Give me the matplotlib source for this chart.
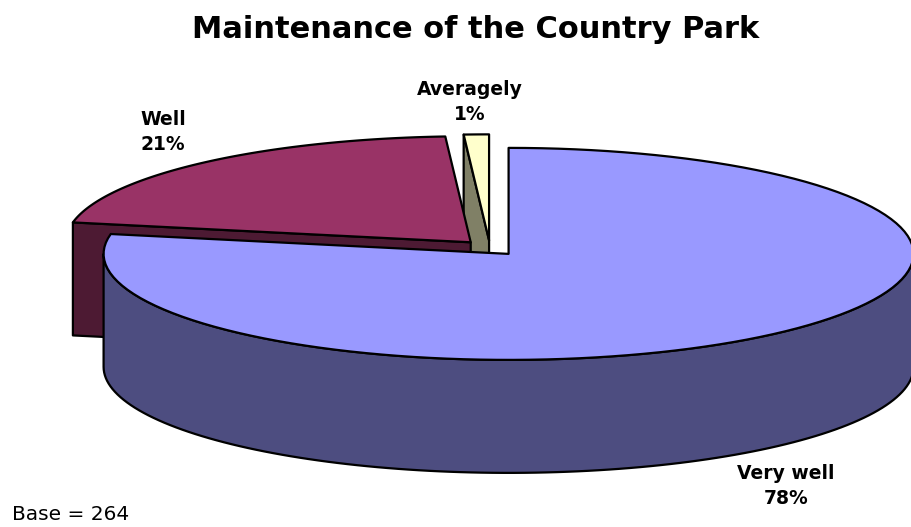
import numpy as np
import matplotlib
matplotlib.use("Agg")
import matplotlib.pyplot as plt
from matplotlib.patches import Polygon

# survey answers, percent of respondents
labels = ["Very well", "Well", "Averagely"]
values = [78, 21, 1]
top_colors = ["#9999FF", "#993366", "#FFFFCC"]
side_colors = ["#4D4D80", "#4D1A33", "#808066"]

title = "Maintenance of the Country Park"
base_note = "Base = 264"

# pie geometry in pixel coordinates
cx, cy = 490.0, 248.0
rx, ry = 405.0, 106.0
depth = 113.0
explode = 0.072

fig = plt.figure(figsize=(9.12, 5.27), dpi=100)
ax = fig.add_axes([0, 0, 1, 1])
ax.set_xlim(0, 912)
ax.set_ylim(527, 0)
ax.axis("off")

edge = dict(edgecolor="black", linewidth=1.6, joinstyle="round")


def pt(t, ox, oy, z=0.0):
    r = np.radians(t)
    return ox + rx * np.cos(r), oy - ry * np.sin(r) + z


def arc(t0, t1, ox, oy, z=0.0, n=120):
    ts = np.linspace(t0, t1, n)
    return [pt(t, ox, oy, z) for t in ts]


total = float(sum(values))
slices = []
start = 90.0
for lab, v, tc, sc in zip(labels, values, top_colors, side_colors):
    sweep = 360.0 * v / total
    a0, a1 = start, start - sweep  # clockwise
    mid = np.radians((a0 + a1) / 2)
    ox = cx + explode * rx * np.cos(mid)
    oy = cy - explode * ry * np.sin(mid)
    slices.append((lab, a0, a1, ox, oy, tc, sc, np.sin(mid)))
    start = a1

# back slices first
for lab, a0, a1, ox, oy, tc, sc, s in sorted(slices, key=lambda q: -q[7]):
    # radial face on the starting edge
    if np.cos(np.radians(a0)) < -1e-6:
        p = pt(a0, ox, oy)
        quad = [(ox, oy), p, (p[0], p[1] + depth), (ox, oy + depth)]
        ax.add_patch(Polygon(quad, closed=True, facecolor=sc, **edge))
    # radial face on the ending edge
    if np.cos(np.radians(a1)) > 1e-6:
        p = pt(a1, ox, oy)
        quad = [(ox, oy), p, (p[0], p[1] + depth), (ox, oy + depth)]
        ax.add_patch(Polygon(quad, closed=True, facecolor=sc, **edge))
    # outer wall, front half only
    for k in range(-2, 2):
        lo = max(a1, -180.0 + 360 * k)
        hi = min(a0, 0.0 + 360 * k)
        if hi > lo:
            top = arc(hi, lo, ox, oy)
            bot = arc(lo, hi, ox, oy, depth)
            ax.add_patch(Polygon(top + bot, closed=True, facecolor=sc, **edge))
    # top face
    face = [(ox, oy)] + arc(a0, a1, ox, oy)
    ax.add_patch(Polygon(face, closed=True, facecolor=tc, **edge))

lab_font = dict(fontsize=13.5, fontweight="bold", ha="center", va="center",
                linespacing=1.35, family="DejaVu Sans")
ax.text(786, 486, f"{labels[0]}\n{values[0]}%", **lab_font)
ax.text(163, 132, f"{labels[1]}\n{values[1]}%", **lab_font)
ax.text(470, 102, f"{labels[2]}\n{values[2]}%", **lab_font)

ax.text(476, 29, title, fontsize=22, fontweight="bold", ha="center",
        va="center", family="DejaVu Sans")
ax.text(12, 515, base_note, fontsize=14.5, ha="left", va="center",
        family="DejaVu Sans")

fig.savefig("out.png", dpi=100)
